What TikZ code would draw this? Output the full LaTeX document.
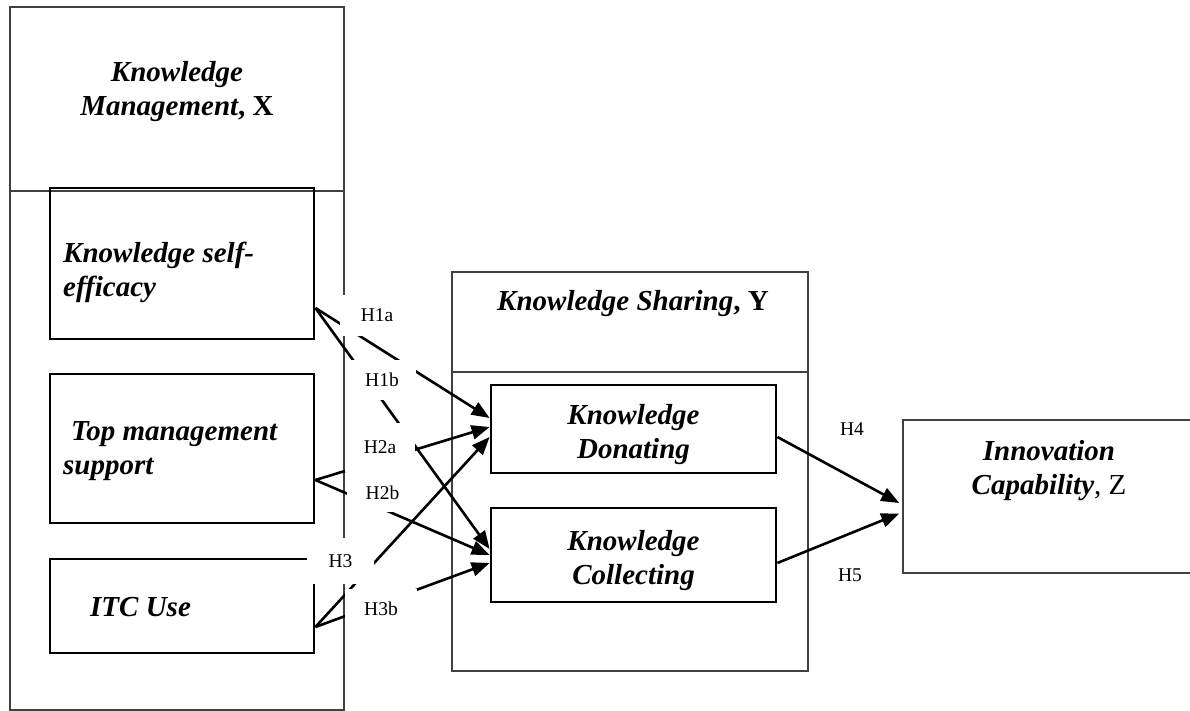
\documentclass[tikz,border=0pt]{standalone}
\usepackage{fontspec}
\setmainfont{Liberation Serif}
\usetikzlibrary{arrows.meta}
\begin{document}
\begin{tikzpicture}[x=1pt,y=-1pt,
  outer/.style={draw=black!75, line width=1.5pt, inner sep=0pt},
  innerbox/.style={draw=black, line width=2.8pt, inner sep=0pt},
  ttl/.style={inner sep=0pt, font=\fontsize{29}{34}\selectfont\bfseries\itshape},
  hyp/.style={fill=white, inner sep=0pt, font=\fontsize{19.5}{22}\selectfont},
  link/.style={line width=2.6pt, -{Triangle[length=18pt,width=14pt]}}
]
\useasboundingbox (0,0) rectangle (1190,711);
% outer boxes
\node[outer, minimum width=334pt, minimum height=703pt] (xbox) at (177,358.5) {};
\coordinate (xdiv) at (0,191);
\draw[black!75, line width=1.5pt] (xbox.west |- xdiv) -- (xbox.east |- xdiv);
\node[outer, minimum width=356pt, minimum height=399pt] (ybox) at (630,471.5) {};
\coordinate (ydiv) at (0,372);
\draw[black!75, line width=1.5pt] (ybox.west |- ydiv) -- (ybox.east |- ydiv);
\node[outer, minimum width=292pt, minimum height=153pt] (zbox) at (1049,496.5) {};
% inner boxes
\node[innerbox, minimum width=264pt, minimum height=151pt] (kse) at (182,263.5) {};
\node[innerbox, minimum width=264pt, minimum height=149pt] (tms) at (182,448.5) {};
\node[innerbox, minimum width=264pt, minimum height=94pt] (itc) at (182,606) {};
\node[innerbox, minimum width=285pt, minimum height=88pt] (don) at (633.5,429) {};
\node[innerbox, minimum width=285pt, minimum height=94pt] (col) at (633.5,555) {};
% texts
\node[ttl, align=center] (xt) at (177,91.5) {Knowledge\\Management{\upshape, X}};
\node[ttl, align=left, anchor=west] (kset) at (63,272) {Knowledge self-\\efficacy};
\node[ttl, align=left, anchor=west] (tmst) at (63,450.75) {\hspace*{8pt}Top management\\support};
\node[ttl, anchor=base west] (itct) at (90,616) {ITC Use};
\node[ttl, anchor=base west] (yt) at (497,310) {Knowledge Sharing{\upshape, Y}};
\node[ttl, align=center] (dont) at (633.5,435) {Knowledge\\Donating};
\node[ttl, align=center] (colt) at (633.5,560.5) {Knowledge\\Collecting};
\node[ttl, align=center] (zt) at (1049,470.5) {Innovation\\Capability{\normalfont, Z}};
% connectors
\draw[link] ([yshift=-44.5pt]kse.east) -- ([yshift=11pt]don.west);
\draw[link] ([yshift=-44.5pt]kse.east) -- ([yshift=6pt]col.west);
\draw[link] ([yshift=-31.5pt]tms.east) -- ([yshift=2pt]don.west);
\draw[link] ([yshift=-31.5pt]tms.east) -- (col.west);
\draw[link] ([yshift=-21pt]itc.east) -- ([yshift=-8pt]don.west);
\draw[link] ([yshift=-21pt]itc.east) -- ([yshift=-8pt]col.west);
\draw[link] ([yshift=-8pt]don.east) -- ([xshift=-3pt,yshift=-6.5pt]zbox.west);
\draw[link] ([yshift=-8pt]col.east) -- ([xshift=-3pt,yshift=-17pt]zbox.west);
% hypothesis labels
\node[hyp, minimum width=74pt, minimum height=41pt] (h1a) at (377,315.5) {H1a};
\node[hyp, minimum width=68pt, minimum height=40pt] (h1b) at (382,380) {H1b};
\node[hyp, minimum width=70pt, minimum height=49pt] (h2a) at (380,447.5) {H2a};
\node[hyp, minimum width=71pt, minimum height=39pt] (h2b) at (382.5,492.5) {H2b};
\node[hyp, minimum width=67pt, minimum height=46pt] (h3) at (340.5,561) {H3};
\node[hyp, minimum width=72pt, minimum height=39pt] (h3b) at (381,608.5) {H3b};
\node[hyp] (h4) at (852,429) {H4};
\node[hyp] (h5) at (850,575) {H5};
\end{tikzpicture}
\end{document}
